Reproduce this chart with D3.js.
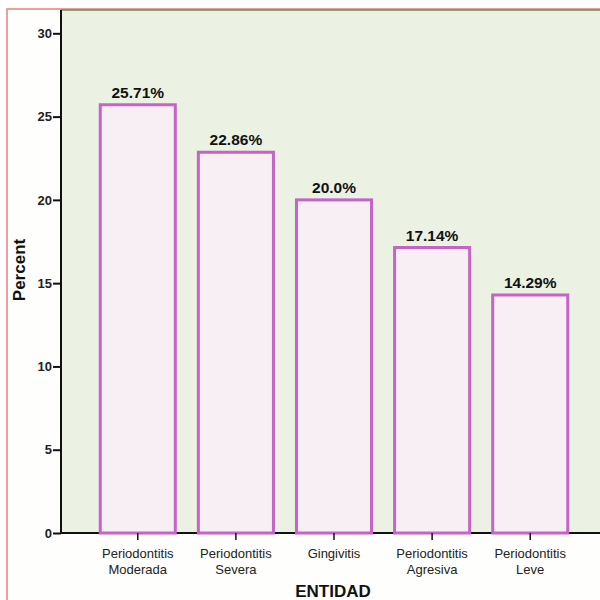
<!DOCTYPE html>
<html>
<head>
<meta charset="utf-8">
<script src="https://cdn.jsdelivr.net/npm/d3@7"></script>
<style>
  body { margin: 0; background: #fff; }
  text { font-family: "Liberation Sans", Arial, sans-serif; }
</style>
</head>
<body>
<svg id="chart" width="600" height="600"></svg>
<script>
const categories = [
  ["Periodontitis", "Moderada"],
  ["Periodontitis", "Severa"],
  ["Gingivitis"],
  ["Periodontitis", "Agresiva"],
  ["Periodontitis", "Leve"]
];
const percents = [25.71, 22.86, 20.0, 17.14, 14.29];
const valueLabels = ["25.71%", "22.86%", "20.0%", "17.14%", "14.29%"];
const yTicks = [0, 5, 10, 15, 20, 25, 30];

const svg = d3.select("#chart");
const plotLeft = 61, plotTop = 10, plotBottom = 533;

// outer frame (scan edge)
svg.append("rect").attr("x", 7).attr("y", 9).attr("width", 600).attr("height", 600)
  .attr("fill", "#fefefc").attr("stroke", "#e88080").attr("stroke-width", 1.5);

const y = d3.scaleLinear().domain([0, 31.4]).range([plotBottom, plotTop]);
const x = d3.scaleBand().domain(d3.range(categories.length))
  .range([plotLeft, 607]).paddingInner(0.235).paddingOuter(0.4);

// plot background
svg.append("rect").attr("x", plotLeft).attr("y", plotTop)
  .attr("width", 600 - plotLeft).attr("height", plotBottom - plotTop)
  .attr("fill", "#ebf1e3");
svg.append("line").attr("x1", plotLeft).attr("x2", 600).attr("y1", plotTop).attr("y2", plotTop)
  .attr("stroke", "#6f8a5a").attr("stroke-width", 1.5);

// x baseline
svg.append("line").attr("x1", plotLeft).attr("x2", 600).attr("y1", plotBottom).attr("y2", plotBottom)
  .attr("stroke", "#111").attr("stroke-width", 2);

// bars
svg.selectAll("rect.bar").data(percents).join("rect")
  .attr("class", "bar")
  .attr("x", (d, i) => x(i))
  .attr("y", d => y(d))
  .attr("width", x.bandwidth())
  .attr("height", d => plotBottom - y(d))
  .attr("fill", "#f8eff5")
  .attr("stroke", "#c463c8")
  .attr("stroke-width", 3);

svg.selectAll("text.val").data(percents).join("text")
  .attr("class", "val")
  .attr("x", (d, i) => x(i) + x.bandwidth() / 2)
  .attr("y", d => y(d) - 7)
  .attr("text-anchor", "middle")
  .attr("font-size", 15.5).attr("font-weight", "bold").attr("fill", "#111")
  .text((d, i) => valueLabels[i]);

// y axis
const yAxis = svg.append("g").attr("transform", `translate(${plotLeft},0)`)
  .call(d3.axisLeft(y).tickValues(yTicks).tickSize(8).tickPadding(1));
yAxis.select(".domain").attr("d", `M0,${plotTop}V${plotBottom}`).attr("stroke", "#111").attr("stroke-width", 2);
yAxis.selectAll(".tick line").attr("stroke", "#111").attr("stroke-width", 2);
yAxis.selectAll(".tick text").attr("font-size", 13).attr("font-weight", "bold").attr("fill", "#222")
  .attr("font-family", "Liberation Sans, Arial, sans-serif");

// x ticks and labels
const xg = svg.append("g");
categories.forEach((lines, i) => {
  const cx = x(i) + x.bandwidth() / 2;
  xg.append("line").attr("x1", cx).attr("x2", cx).attr("y1", plotBottom).attr("y2", plotBottom + 7)
    .attr("stroke", "#111").attr("stroke-width", 1.5);
  const t = xg.append("text").attr("x", cx).attr("y", 558)
    .attr("text-anchor", "middle").attr("font-size", 13).attr("fill", "#222");
  lines.forEach((l, j) => t.append("tspan").attr("x", cx).attr("dy", j ? 16 : 0).text(l));
});

svg.append("text").attr("x", 333).attr("y", 597).attr("text-anchor", "middle")
  .attr("font-size", 17).attr("font-weight", "bold").attr("fill", "#111").text("ENTIDAD");

svg.append("text").attr("transform", "translate(25,270) rotate(-90)")
  .attr("text-anchor", "middle").attr("font-size", 17).attr("font-weight", "bold")
  .attr("fill", "#111").text("Percent");
</script>
</body>
</html>
